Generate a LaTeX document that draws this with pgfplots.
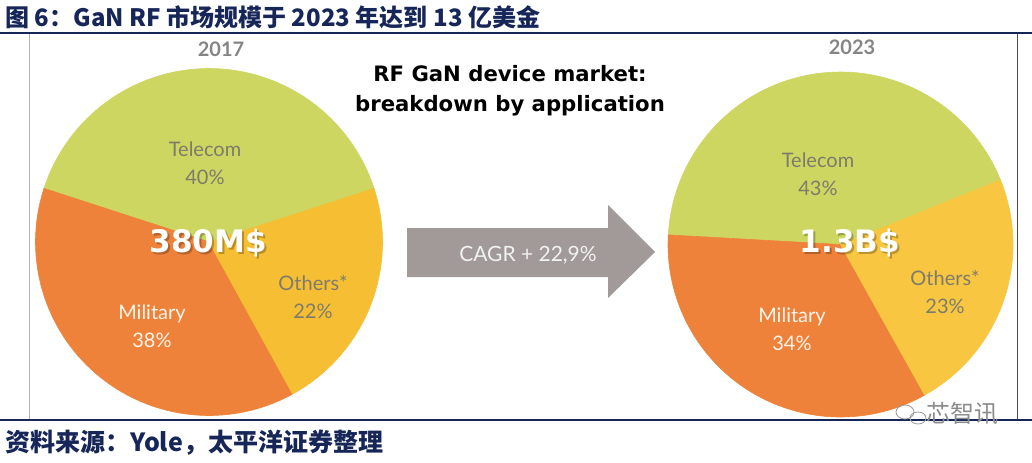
\documentclass[border=0pt]{standalone}
\usepackage{pgfplots}
\pgfplotsset{compat=1.18}
\usepackage{fontspec}
\setmainfont{Lato}
\newfontfamily\cjk{Noto Sans CJK SC}
\newfontfamily\dvs{DejaVu Sans}

\definecolor{navy}{RGB}{22,38,88}
\definecolor{telecom}{RGB}{205,214,96}
\definecolor{military}{RGB}{238,130,58}
\definecolor{others}{RGB}{246,190,50}
\definecolor{othersB}{RGB}{248,198,64}
\definecolor{lbl}{RGB}{125,124,108}
\definecolor{arrowgray}{RGB}{162,153,153}

% shares in percent
\def\TelA{40}\def\MilA{38}\def\OthA{22}
\def\TelB{43}\def\MilB{34}\def\OthB{23}

% sector boundaries (degrees), starting angle of Telecom
\pgfmathsetmacro\aA{18}
\pgfmathsetmacro\bA{\aA+3.6*\TelA}
\pgfmathsetmacro\cA{\bA+3.6*\MilA}
\pgfmathsetmacro\dA{\cA+3.6*\OthA}
\pgfmathsetmacro\aB{22}
\pgfmathsetmacro\bB{\aB+3.6*\TelB}
\pgfmathsetmacro\cB{\bB+3.6*\MilB}
\pgfmathsetmacro\dB{\cB+3.6*\OthB}

\pgfplotsset{pie/.style={anchor=center, hide axis, scale only axis,
    xmin=-1, xmax=1, ymin=-1, ymax=1, clip=false}}

\begin{document}
\begin{tikzpicture}[x=0.5pt, y=-0.5pt]
\path[use as bounding box, fill=white] (0,0) rectangle (1032,462);

% frame lines
\draw[navy, line width=1.4pt] (0,33) -- (1032,33);
\draw[navy, line width=1.4pt] (0,420) -- (1032,420);
\draw[black!30, line width=0.5pt] (29,34) -- (29,419);
\draw[black!70, line width=0.5pt] (1017,34) -- (1017,419);

% 2017 pie
\begin{axis}[pie, at={(104.5pt,-121pt)}, width=173.5pt, height=173.5pt]
\addplot[fill=telecom, draw=telecom, line width=0.3pt, domain=\aA:\bA, samples=90, variable=\t]
  ({cos(\t)},{sin(\t)}) -- (axis cs:0,0) -- cycle;
\addplot[fill=military, draw=military, line width=0.3pt, domain=\bA:\cA, samples=90, variable=\t]
  ({cos(\t)},{sin(\t)}) -- (axis cs:0,0) -- cycle;
\addplot[fill=others, draw=others, line width=0.3pt, domain=\cA:\dA, samples=60, variable=\t]
  ({cos(\t)},{sin(\t)}) -- (axis cs:0,0) -- cycle;
\end{axis}

% 2023 pie
\begin{axis}[pie, at={(420.25pt,-122.25pt)}, width=172.5pt, height=172.5pt]
\addplot[fill=telecom, draw=telecom, line width=0.3pt, domain=\aB:\bB, samples=90, variable=\t]
  ({cos(\t)},{sin(\t)}) -- (axis cs:0,0) -- cycle;
\addplot[fill=military, draw=military, line width=0.3pt, domain=\bB:\cB, samples=90, variable=\t]
  ({cos(\t)},{sin(\t)}) -- (axis cs:0,0) -- cycle;
\addplot[fill=othersB, draw=othersB, line width=0.3pt, domain=\cB:\dB, samples=60, variable=\t]
  ({cos(\t)},{sin(\t)}) -- (axis cs:0,0) -- cycle;
\end{axis}

% title and source
\node[anchor=west, text=navy, inner sep=0pt] at (5,17)
  {\cjk\bfseries\fontsize{12}{14}\selectfont 图 6：GaN RF 市场规模于 2023 年达到 13 亿美金};
\node[anchor=west, text=navy, inner sep=0pt] at (5,443)
  {\cjk\bfseries\fontsize{12.5}{14}\selectfont 资料来源：Yole，太平洋证券整理};

% years
\node[text=black!48, inner sep=0pt] at (221,49) {\bfseries\fontsize{10}{11}\selectfont 2017};
\node[text=black!48, inner sep=0pt] at (852,47) {\bfseries\fontsize{10}{11}\selectfont 2023};

% heading
\node[align=center, inner sep=0pt, font=\dvs\bfseries\fontsize{10.6}{15}\selectfont] at (510,91)
  {RF GaN device market:\\breakdown by application};

% arrow
\fill[arrowgray] (407,228) -- (608,228) -- (608,205) -- (655,252) -- (608,298)
  -- (608,277) -- (407,277) -- cycle;
\node[text=white!95!black, inner sep=0pt] at (528,255) {\fontsize{10.5}{12}\selectfont CAGR + 22,9\%};

% pie labels
\begin{scope}[every node/.style={align=center, inner sep=0pt, font=\fontsize{10}{14}\selectfont}]
\node[text=lbl] at (205,163) {Telecom\\40\%};
\node[text=white!92!orange] at (152,326) {Military\\38\%};
\node[text=lbl] at (313,297) {Others*\\22\%};
\node[text=lbl] at (818,174) {Telecom\\43\%};
\node[text=white!92!orange] at (792,329) {Military\\34\%};
\node[text=lbl] at (945,292) {Others*\\23\%};
\end{scope}

% totals
\node[text=black, opacity=0.25, inner sep=0pt] at (210,245) {\dvs\bfseries\fontsize{15.5}{17}\selectfont 380M\$};
\node[text=white, inner sep=0pt] at (208,243) {\dvs\bfseries\fontsize{15.5}{17}\selectfont 380M\$};
\node[text=black, opacity=0.25, inner sep=0pt] at (852,245) {\dvs\bfseries\fontsize{15.5}{17}\selectfont 1.3B\$};
\node[text=white, inner sep=0pt] at (850,243) {\dvs\bfseries\fontsize{15.5}{17}\selectfont 1.3B\$};

% watermark
\draw[black!40, line width=0.4pt] (905,412) ellipse (9 and 7);
\draw[black!40, line width=0.4pt] (918,418) ellipse (8 and 6);
\node[text=black!45, inner sep=0pt] at (962,414) {\cjk\fontsize{12}{13}\selectfont 芯智讯};
\end{tikzpicture}
\end{document}
